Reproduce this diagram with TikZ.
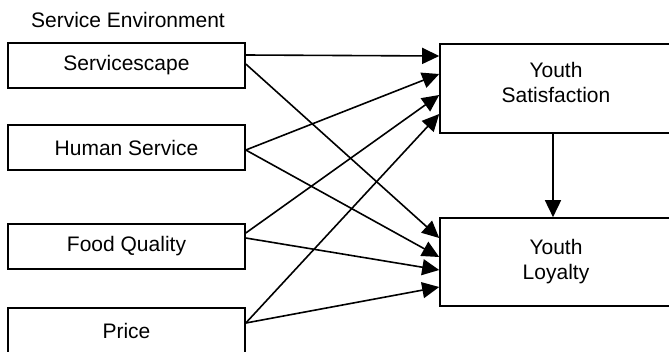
\documentclass[tikz,border=0pt]{standalone}
\usepackage{fontspec}
\setmainfont{Liberation Sans}
\usetikzlibrary{arrows.meta}

\begin{document}
\begin{tikzpicture}[x=1pt,y=-1pt,
  every node/.style={font=\fontsize{21}{25}\selectfont},
  factor/.style={draw,line width=1.6pt,minimum width=237pt,minimum height=45pt,inner sep=0pt},
  outcome/.style={draw,line width=1.6pt,minimum width=232pt,minimum height=89pt,align=center,inner sep=0pt},
  link/.style={-{Triangle[length=17pt,width=16pt]},line width=1.6pt}]
\clip (0,0) rectangle (669,351);
\node[anchor=base] (title) at (128,27) {Service Environment};
\node[factor] (scape) at (126.5,65.5) {Servicescape};
\node[factor] (human) at (126.5,147.5) {Human Service};
\node[factor] (food) at (126.5,246.5) {Food Quality};
\node[factor] (price) at (126.5,330.5) {Price};
\node[outcome] (sat) at (556,88.5) {Youth\\Satisfaction\rule[-13pt]{0pt}{0pt}};
\node[outcome,minimum height=88pt] (loyal) at (556,262) {Youth\\Loyalty};

\draw[link] ([yshift=10.5pt]scape.east) -- ([yshift=32.5pt]sat.west);
\draw[link] ([yshift=1.5pt]scape.east) -- ([yshift=24pt]loyal.west);
\draw[link] ([yshift=-2.5pt]human.east) -- ([yshift=14.5pt]sat.west);
\draw[link] ([yshift=-2.5pt]human.east) -- ([yshift=5pt]loyal.west);
\draw[link] ([yshift=13.5pt]food.east) -- ([yshift=-6.5pt]sat.west);
\draw[link] ([yshift=8.5pt]food.east) -- ([yshift=-8pt]loyal.west);
\draw[link] ([yshift=7.5pt]price.east) -- ([yshift=-25.5pt]sat.west);
\draw[link] ([yshift=7.5pt]price.east) -- ([yshift=-25pt]loyal.west);
\draw[link] ([xshift=-3pt]sat.south) -- ([xshift=-3pt]loyal.north);
\end{tikzpicture}
\end{document}
